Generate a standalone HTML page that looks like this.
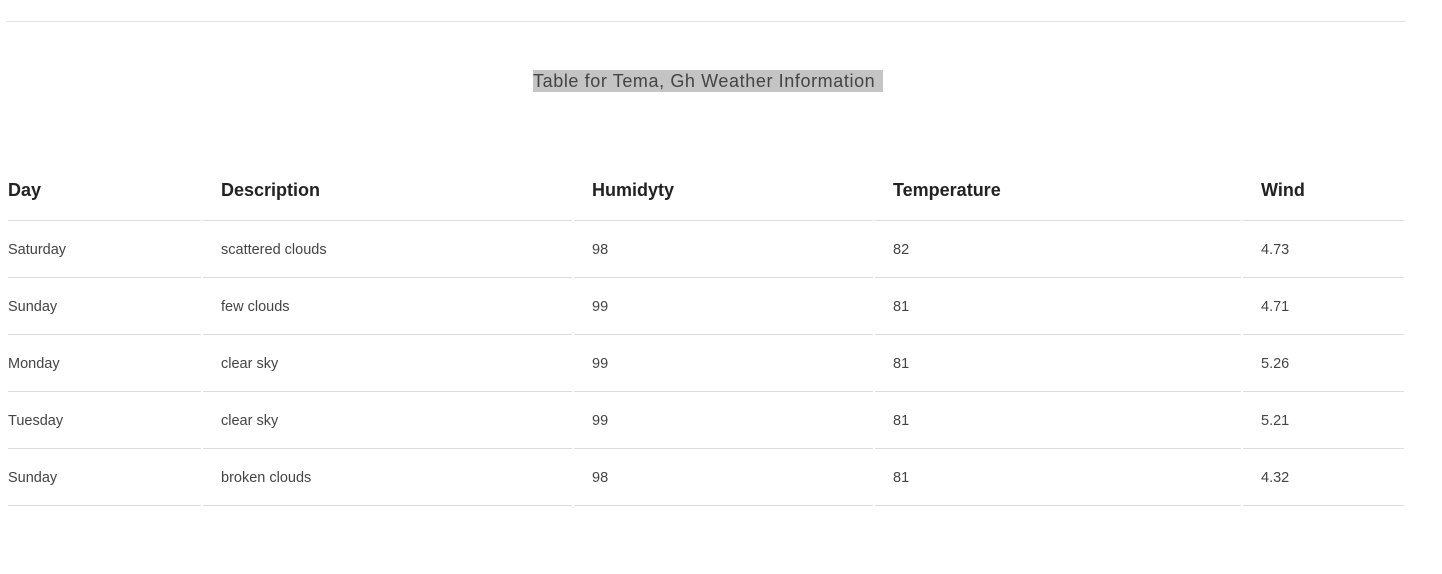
<!DOCTYPE html>
<html><head><meta charset="utf-8"><style>
body{margin:0;width:1442px;height:574px;background:#fff;font-family:"Liberation Sans",sans-serif;color:#333;position:relative;overflow:hidden}
.rule{position:absolute;left:6px;top:21px;width:1400px;height:1px;background:#e3e3e3}
.title{position:absolute;left:533px;top:70px;width:350px;height:22px;background:#c4c4c4;color:#444;font-size:18px;line-height:22px;letter-spacing:0.6px;white-space:nowrap}
table{position:absolute;left:6px;top:160px;border-collapse:separate;border-spacing:2px 0;table-layout:fixed}
th,td{border-bottom:1px solid #ddd;text-align:left;padding:0;white-space:nowrap;box-sizing:border-box}
th{height:61px;font-size:18px;font-weight:bold;color:#222;vertical-align:middle;padding-top:0}
td{height:57px;font-size:14.5px;color:#444;vertical-align:middle;padding-top:2px}
.p{padding-left:18px}
</style></head><body>
<div class="rule"></div>
<div class="title">Table for Tema, Gh Weather Information</div>
<table>
<colgroup><col style="width:193px"><col style="width:369px"><col style="width:299px"><col style="width:366px"><col style="width:161px"></colgroup>
<thead><tr>
<th>Day</th>
<th class="p">Description</th>
<th class="p">Humidyty</th>
<th class="p">Temperature</th>
<th class="p">Wind</th>
</tr></thead>
<tbody>
<tr><td>Saturday</td><td class="p">scattered clouds</td><td class="p">98</td><td class="p">82</td><td class="p">4.73</td></tr>
<tr><td>Sunday</td><td class="p">few clouds</td><td class="p">99</td><td class="p">81</td><td class="p">4.71</td></tr>
<tr><td>Monday</td><td class="p">clear sky</td><td class="p">99</td><td class="p">81</td><td class="p">5.26</td></tr>
<tr><td>Tuesday</td><td class="p">clear sky</td><td class="p">99</td><td class="p">81</td><td class="p">5.21</td></tr>
<tr><td>Sunday</td><td class="p">broken clouds</td><td class="p">98</td><td class="p">81</td><td class="p">4.32</td></tr>
</tbody></table>
</body></html>
